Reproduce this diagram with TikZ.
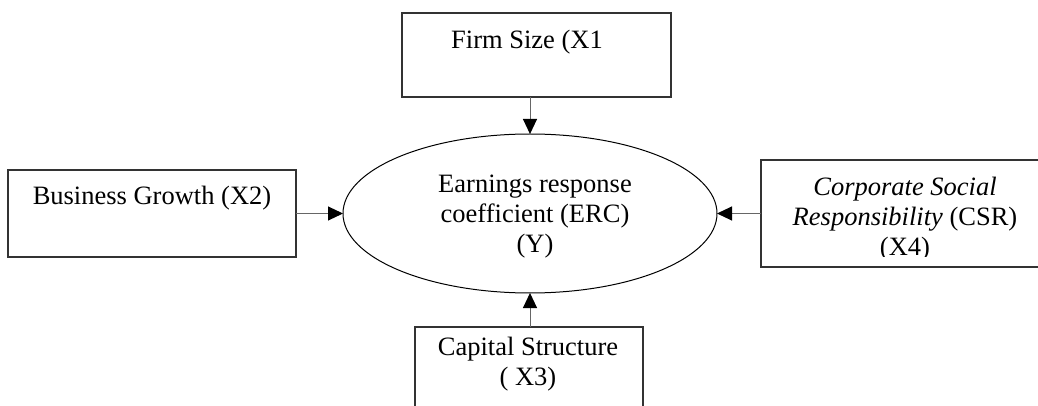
\documentclass[tikz,border=0pt]{standalone}
\usepackage{fontspec}
\setmainfont{Liberation Serif}
\usetikzlibrary{arrows.meta,shapes.geometric}

\begin{document}
\begin{tikzpicture}[x=0.5pt, y=-0.5pt,
  box/.style={draw=black!80, line width=0.7pt, inner sep=0pt, outer sep=0pt},
  oval/.style={ellipse, draw=black, line width=0.5pt, inner sep=0pt, outer sep=0pt},
  txt/.style={font=\fontsize{13.25}{15}\selectfont, align=center, inner sep=0pt, anchor=base},
  link/.style={draw=black!60, line width=0.5pt, -{Triangle[length=7.5pt, width=7pt, color=black]}}]

  \clip (0,0) rectangle (1038,406);

  \node[oval, minimum width=187pt, minimum height=79.5pt] (erc) at (530,213.5) {};
  \node[txt] (erc-t) at (535,253) {Earnings response\\coefficient (ERC)\\(Y)};

  \node[box, minimum width=134.5pt, minimum height=42pt] (size) at (536.5,55) {};
  \node[txt] (size-t) at (527,49) {Firm Size (X1};

  \node[box, minimum width=144pt, minimum height=43.5pt] (growth) at (152,213.5) {};
  \node[txt] (growth-t) at (152,205) {Business Growth (X2)};

  \node[box, minimum width=144pt, minimum height=53.5pt] (csr) at (905,213.5) {};
  \begin{scope}
    \clip (761,160) rectangle (1038,257);
    \node[txt] (csr-t) at (905,256) {\textit{Corporate Social}\\\textit{Responsibility} (CSR)\\(X4)};
  \end{scope}

  \node[box, minimum width=114pt, minimum height=56.5pt] (capital) at (529,383.5) {};
  \node[txt] (capital-t) at (528,385) {Capital Structure\\( X3)};

  \draw[link] (size.south -| erc.north) -- (erc.north);
  \draw[link] (growth) -- (erc);
  \draw[link] (csr) -- (erc);
  \draw[link] (capital.north -| erc.south) -- (erc.south);
\end{tikzpicture}
\end{document}
